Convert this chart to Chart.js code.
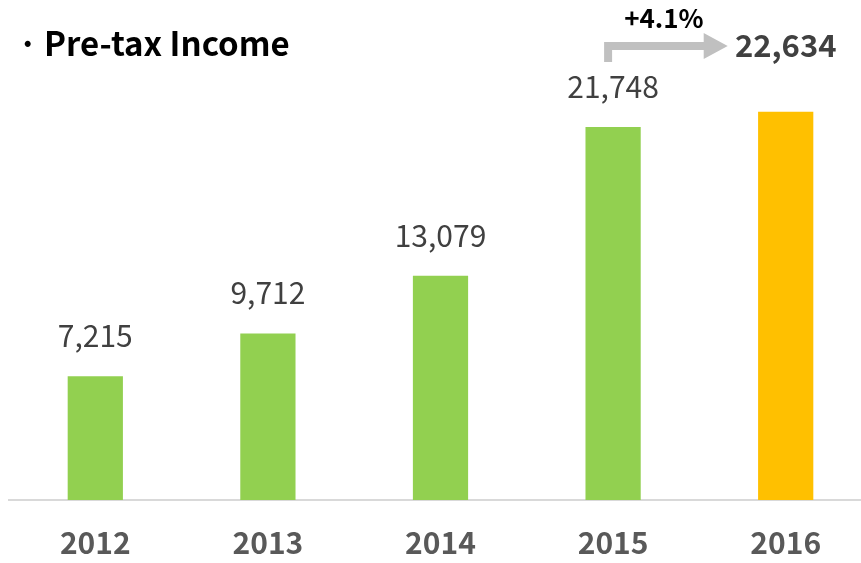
<!DOCTYPE html>
<html>
<head>
<meta charset="utf-8">
<script src="https://cdn.jsdelivr.net/npm/chart.js@4"></script>
<style>
    html, body { margin: 0; padding: 0; background: #fff; overflow: hidden; }
    #wrap { width: 861px; height: 563px; overflow: hidden; }
    canvas { display: block; }
</style>
</head>
<body>
<div id="wrap"><canvas id="chart" width="872" height="563"></canvas></div>
<script>
const YEARS = ['2012', '2013', '2014', '2015', '2016'];
const PRETAX = [7215, 9712, 13079, 21748, 22634];
const BAR_COLORS = ['#92D050', '#92D050', '#92D050', '#92D050', '#FFC000'];
const TITLE = 'Pre-tax Income';
const GROWTH = '+4.1%';

const FONT = "'Noto Sans CJK KR', 'Noto Sans', sans-serif";

function fmt(v) {
    return v.toLocaleString('en-US');
}

// labels, title and the growth arrow drawn on top of the bars
const overlay = {
    id: 'overlay',
    afterDatasetsDraw(chart) {
        const ctx = chart.ctx;
        const bars = chart.getDatasetMeta(0).data;
        const last = bars.length - 1;

        ctx.save();
        ctx.textAlign = 'center';
        ctx.textBaseline = 'alphabetic';
        ctx.fillStyle = '#404040';
        ctx.font = '30px ' + FONT;
        for (let i = 0; i < last; i += 1) {
            ctx.fillText(fmt(PRETAX[i]), bars[i].x, bars[i].y - 29);
        }

        ctx.font = 'bold 31px ' + FONT;
        ctx.fillText(fmt(PRETAX[last]), bars[last].x, bars[last].y - 55);

        // elbow arrow from 2015 to 2016
        const x0 = bars[last - 1].x - 9;
        const tip = bars[last].x - 58;
        const yTop = bars[last - 1].y - 85;
        ctx.fillStyle = '#C0C0C0';
        ctx.beginPath();
        ctx.moveTo(x0, yTop + 20);
        ctx.lineTo(x0, yTop);
        ctx.lineTo(tip - 24, yTop);
        ctx.lineTo(tip - 24, yTop - 9);
        ctx.lineTo(tip, yTop + 4);
        ctx.lineTo(tip - 24, yTop + 17);
        ctx.lineTo(tip - 24, yTop + 8);
        ctx.lineTo(x0 + 8, yTop + 8);
        ctx.lineTo(x0 + 8, yTop + 20);
        ctx.closePath();
        ctx.fill();

        ctx.fillStyle = '#000';
        ctx.font = 'bold 26px ' + FONT;
        ctx.fillText(GROWTH, (x0 + tip) / 2 - 2, yTop - 14);

        ctx.textAlign = 'left';
        ctx.font = 'bold 33px ' + FONT;
        ctx.fillText('\u00B7', 18, 56);
        ctx.fillText(TITLE, 44, 56);
        ctx.restore();
    },
};

new Chart(document.getElementById('chart'), {
    type: 'bar',
    data: {
        labels: YEARS,
        datasets: [
            {
                label: 'Pre-tax Income',
                data: PRETAX,
                backgroundColor: BAR_COLORS,
                barPercentage: 0.32,
                categoryPercentage: 1,
            },
        ],
    },
    options: {
        responsive: false,
        animation: false,
        devicePixelRatio: 1,
        layout: { padding: { left: 9, right: 0, top: 0, bottom: 0 } },
        plugins: {
            legend: { display: false },
            tooltip: { enabled: false },
        },
        scales: {
            x: {
                grid: { display: false, drawTicks: false },
                border: { display: true, color: '#D9D9D9', width: 2 },
                ticks: {
                    color: '#595959',
                    font: { family: FONT, size: 30, weight: 'bold' },
                    padding: 25,
                },
                afterFit(scale) {
                    scale.height = 63;
                },
            },
            y: {
                display: false,
                min: 0,
                max: 29150,
            },
        },
    },
    plugins: [overlay],
});
</script>
</body>
</html>
